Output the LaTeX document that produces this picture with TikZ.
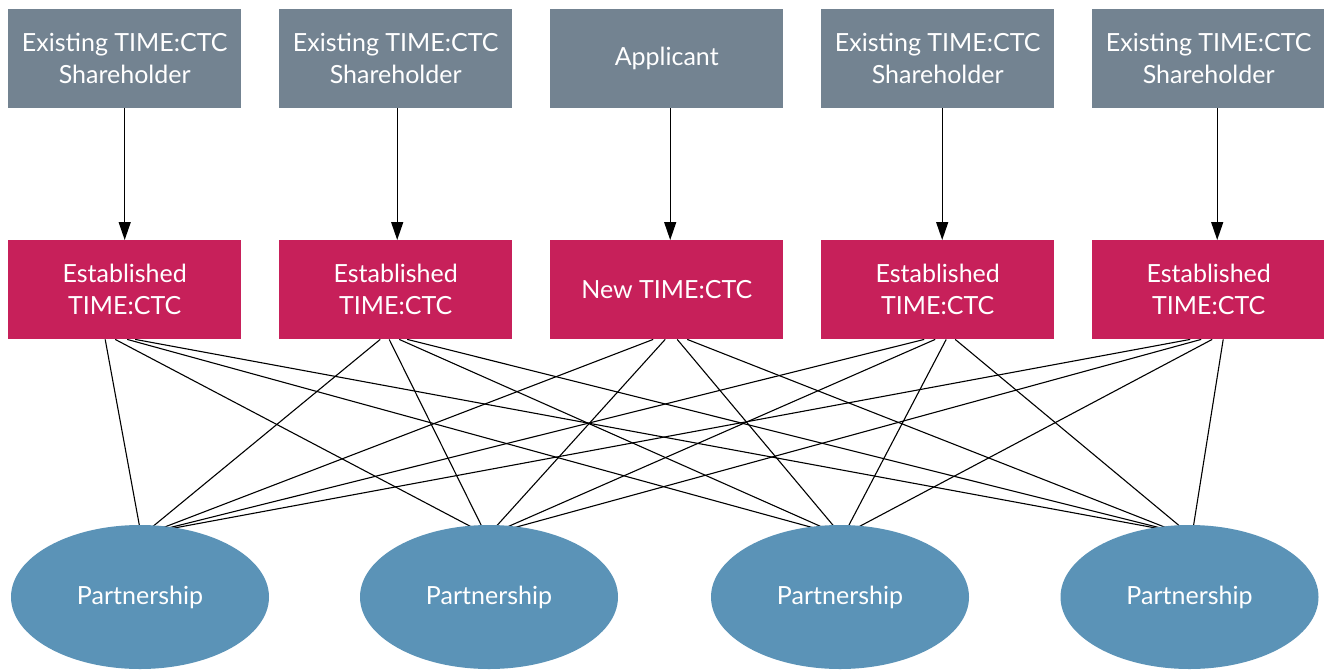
\documentclass[tikz,border=0pt]{standalone}
\usepackage{fontspec}
\setmainfont{Lato}
\usetikzlibrary{arrows.meta,shapes.geometric,backgrounds}
\definecolor{topgray}{RGB}{115,131,145}
\definecolor{ctcred}{RGB}{199,32,90}
\definecolor{partblue}{RGB}{91,147,183}
\begin{document}
\begin{tikzpicture}[x=1pt,y=-1pt,
  lbl/.style={text=white,font=\fontsize{25}{32}\selectfont,align=center},
  topbox/.style={lbl,fill=topgray,minimum width=233pt,minimum height=99pt,inner sep=0pt,anchor=north west},
  ctcbox/.style={lbl,fill=ctcred,minimum width=233pt,minimum height=99pt,inner sep=0pt,anchor=north west},
  partner/.style={lbl,ellipse,fill=partblue,minimum width=258pt,minimum height=144pt,inner sep=0pt},
  feed/.style={draw=black,line width=1.3pt,-{Triangle[length=18pt,width=12pt]}},
  link/.style={draw=black,line width=1.1pt}]
\useasboundingbox (0,0) rectangle (1324,669);
\node[topbox] (t1) at (8,9) {Existing TIME:CTC\\Shareholder};
\node[topbox] (t2) at (279,9) {Existing TIME:CTC\\Shareholder};
\node[topbox] (t3) at (550,9) {Applicant};
\node[topbox] (t4) at (821,9) {Existing TIME:CTC\\Shareholder};
\node[topbox] (t5) at (1092,9) {Existing TIME:CTC\\Shareholder};
\node[ctcbox] (r1) at (8,240) {Established\\TIME:CTC};
\node[ctcbox] (r2) at (279,240) {Established\\TIME:CTC};
\node[ctcbox] (r3) at (550,240) {New TIME:CTC};
\node[ctcbox] (r4) at (821,240) {Established\\TIME:CTC};
\node[ctcbox] (r5) at (1092,240) {Established\\TIME:CTC};
\node[partner] (e1) at (140,597) {Partnership};
\node[partner] (e2) at (489,597) {Partnership};
\node[partner] (e3) at (840,597) {Partnership};
\node[partner] (e4) at (1189.5,597) {Partnership};
\foreach \i/\d in {1/0,2/1.5,3/3.5,4/4.5,5/8.5}
  \draw[feed] ([xshift=\d pt]t\i.south) -- ([xshift=\d pt]r\i.north);
\begin{scope}[on background layer]
\foreach \i/\j/\s/\e in {
  1/1/-19.5/0, 1/2/-9.5/-14, 1/3/2.5/-23, 1/4/10.5/-29.5,
  2/1/-15.5/10, 2/2/-6.5/-6, 2/3/3.5/-14, 2/4/11.5/-25.5,
  3/1/-13.5/20, 3/2/-1.5/5, 3/3/10.5/-4, 3/4/20.5/-20.5,
  4/1/-13.5/25, 4/2/-2.5/14, 4/3/8.5/7, 4/4/17.5/-6.5,
  5/1/-18.5/30, 5/2/-7.5/21, 5/3/3.5/15, 5/4/14.5/3.5}
  \draw[link] ([xshift=\s pt]r\i.south) -- ([xshift=\e pt,yshift=-4pt]e\j.north);
\end{scope}
\end{tikzpicture}
\end{document}
